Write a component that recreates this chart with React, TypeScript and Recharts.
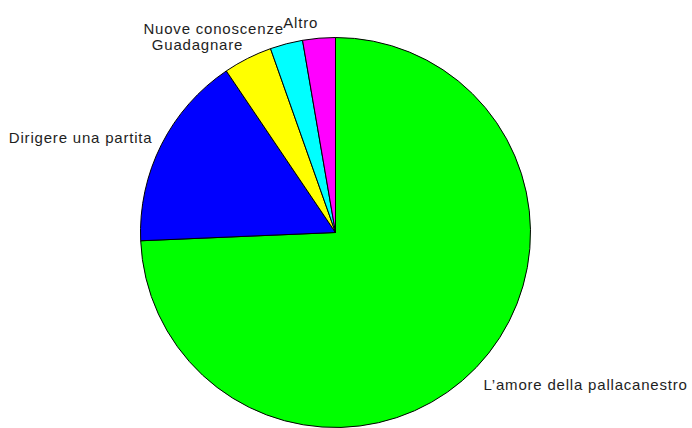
import React from "react";
import { PieChart, Pie, Cell } from "recharts";

const categories = [
  "L\u2019amore della pallacanestro",
  "Dirigere una partita",
  "Guadagnare",
  "Nuove conoscenze",
  "Altro",
];
const counts = [110, 24, 6, 4, 4];
const colors = ["#00ff00", "#0000ff", "#ffff00", "#00ffff", "#ff00ff"];

const data = categories.map((name, i) => ({ name, value: counts[i] }));

const RAD = Math.PI / 180;

const renderLabel = (props: any) => {
  const { cx, cy, midAngle, outerRadius, index } = props;
  const r = outerRadius + 10;
  const cosA = Math.cos(midAngle * RAD);
  const up = Math.sin(midAngle * RAD);
  const x = cx + r * cosA;
  const y = cy - r * up;
  const anchor = cosA >= 0 ? "start" : "end";
  const baseline = y + 5 - up * (up > 0 ? 5 : 15);
  return (
    <text
      x={x}
      y={baseline}
      textAnchor={anchor}
      fill="#1e1e1e"
      fontFamily="'Liberation Sans', Arial, sans-serif"
      fontSize={15}
      style={{ letterSpacing: "0.8px" }}
    >
      {categories[index]}
    </text>
  );
};

export default function App() {
  return (
    <div style={{ position: "absolute", left: 0, top: 0, width: 692, height: 428, background: "#fff" }}>
      <PieChart width={692} height={428} margin={{ top: 0, right: 0, bottom: 0, left: 0 }}>
        <Pie
          data={data}
          dataKey="value"
          nameKey="name"
          cx={335.5}
          cy={232.5}
          outerRadius={195}
          startAngle={90}
          endAngle={-270}
          stroke="#000"
          strokeWidth={1}
          label={renderLabel}
          labelLine={false}
          isAnimationActive={false}
        >
          {data.map((d, i) => (
            <Cell key={d.name} fill={colors[i]} />
          ))}
        </Pie>
      </PieChart>
    </div>
  );
}
